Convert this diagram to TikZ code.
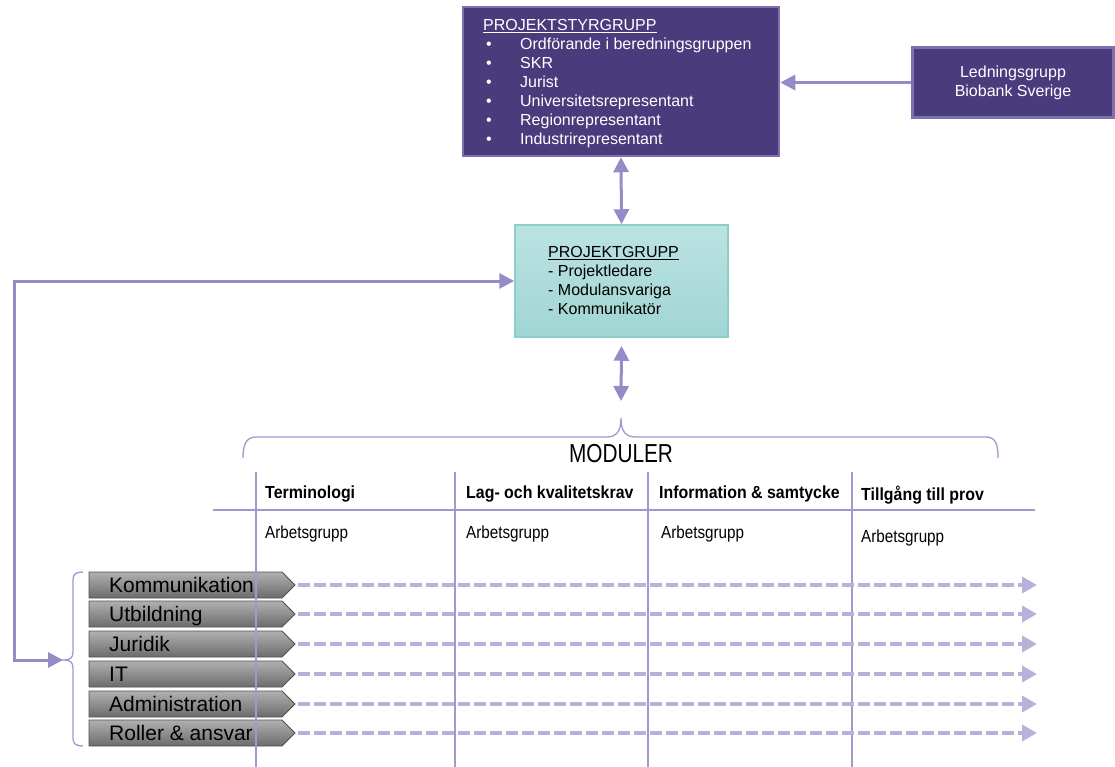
\documentclass[tikz,border=0pt]{standalone}
\usepackage{fontspec}
\setmainfont{Liberation Sans}
\usetikzlibrary{arrows.meta}
\definecolor{darkpurple}{HTML}{4A3B7C}
\definecolor{purpleedge}{HTML}{7E71AE}
\definecolor{arrowcol}{HTML}{978BC7}
\definecolor{dashcol}{HTML}{B9B1DA}
\definecolor{tablecol}{HTML}{A098CE}
\definecolor{tealtop}{HTML}{BCE3E2}
\definecolor{tealbot}{HTML}{A0D5D3}
\definecolor{tealedge}{HTML}{8ACFCC}
\definecolor{graytop}{HTML}{B0B0B0}
\definecolor{graybot}{HTML}{6C6C6C}
\definecolor{grayedge}{HTML}{505050}
\begin{document}
\begin{tikzpicture}[x=1pt,y=-1pt,
  purplebox/.style={draw=purpleedge, line width=2.5pt, fill=darkpurple, text=white, inner sep=0pt},
  tealbox/.style={draw=tealedge, line width=1.5pt, top color=tealtop, bottom color=tealbot, inner sep=0pt},
  twoway/.style={draw=arrowcol, line width=3pt, {Triangle[length=15pt,width=15pt]}-{Triangle[length=15pt,width=15pt]}},
  oneway/.style={draw=arrowcol, line width=3pt, -{Triangle[length=15pt,width=15pt]}},
  dashconn/.style={draw=dashcol, line width=4.5pt, dash pattern=on 12pt off 4pt, -{Triangle[length=15pt,width=16pt]}},
  bracestyle/.style={draw=tablecol, line width=1.3pt},
  tableline/.style={draw=tablecol, line width=1.3pt},
  graybox/.style={draw=grayedge, line width=0.8pt, top color=graytop, bottom color=graybot},
  rowtext/.style={anchor=base west, inner sep=0pt, font=\fontsize{21}{21}\selectfont},
  headtext/.style={anchor=base west, inner sep=0pt, font=\fontsize{17.5}{17.5}\selectfont\bfseries},
  worktext/.style={anchor=base west, inner sep=0pt, font=\fontsize{17.5}{17.5}\selectfont},
  boxtext/.style={anchor=base west, inner sep=0pt, font=\fontsize{16}{19}\selectfont}
]
\useasboundingbox (0,0) rectangle (1115,767);

% Top boxes
\node[purplebox, minimum width=316pt, minimum height=149pt] (styr) at (621,81.5) {};
\node[boxtext, text=white] (styrtxt) at (483,30.5) {\begin{tabular}[t]{@{}l@{}}
\underline{PROJEKTSTYRGRUPP}\\
\hspace*{3pt}\makebox[34pt][l]{•}Ordförande i beredningsgruppen\\
\hspace*{3pt}\makebox[34pt][l]{•}SKR\\
\hspace*{3pt}\makebox[34pt][l]{•}Jurist\\
\hspace*{3pt}\makebox[34pt][l]{•}Universitetsrepresentant\\
\hspace*{3pt}\makebox[34pt][l]{•}Regionrepresentant\\
\hspace*{3pt}\makebox[34pt][l]{•}Industrirepresentant
\end{tabular}};

\node[purplebox, minimum width=201pt, minimum height=70pt, align=center,
      font=\fontsize{16}{19}\selectfont] (led) at (1013,82.5) {Ledningsgrupp\\Biobank Sverige};

\node[tealbox, minimum width=213pt, minimum height=112pt] (pg) at (621.5,281) {};
\node[boxtext] (pgtxt) at (548,257.5) {\begin{tabular}[t]{@{}l@{}}
\underline{PROJEKTGRUPP}\\
- Projektledare\\
- Modulansvariga\\
- Kommunikatör
\end{tabular}};

% Connectors between top boxes
\draw[oneway] (led.west) -- (led.west -| styr.east);
\draw[twoway] (styr.south) -- (pg.north);
\coordinate (mtop) at (621,401);
\draw[twoway] ([yshift=-8pt]pg.south) -- (mtop);

% Moduler brace
\draw[bracestyle] (243,458) .. controls (243,445) and (246,437) .. (256,437) -- (606,437)
  .. controls (616,437) and (621,432) .. (621,418)
  .. controls (621,432) and (626,437) .. (636,437) -- (986,437)
  .. controls (996,437) and (998,445) .. (998,458);
\node[anchor=base, inner sep=0pt] (mod) at (621,462) {\scalebox{0.8}[1]{\fontsize{26}{26}\selectfont MODULER}};

% Left brace
\coordinate (bt) at (63,660);
\draw[bracestyle] (83,572) .. controls (76,572) and (73,574) .. (73,580) -- (73,652)
  .. controls (73,658) and (70,660) .. (64,660)
  .. controls (70,660) and (73,662) .. (73,668) -- (73,738)
  .. controls (73,744) and (76,746) .. (83,746);

% Left connector
\coordinate (lc) at (14,660);
\draw[twoway] (bt) -- (lc) |- (pg.west);

% Gray row boxes
\foreach \y/\t/\n in {585/Kommunikation/r1, 614/Utbildning/r2, 644/Juridik/r3, 674/IT/r4, 704/Administration/r5, 733/{Roller \& ansvar}/r6}{
  \path[graybox] (89,\y-13) -- (282,\y-13) -- (295,\y) -- (282,\y+13) -- (89,\y+13) -- cycle;
  \node[rowtext] (\n) at (109,\y+7.5) {\t};
  \coordinate (\n-tip) at (298,\y);
  \coordinate (\n-end) at (1037,\y);
}

% Table lines
\draw[tableline] (213,510) -- (1035,510);
\foreach \x in {256,455,648,852}{
  \draw[tableline] (\x,472) -- (\x,767);
}

% Table texts
\node[headtext] (h1) at (265,498.5) {\scalebox{0.91}[1]{Terminologi}};
\node[headtext] (h2) at (466,498.5) {\scalebox{0.91}[1]{Lag- och kvalitetskrav}};
\node[headtext] (h3) at (659,498.5) {\scalebox{0.91}[1]{Information \& samtycke}};
\node[headtext] (h4) at (861,500.5) {\scalebox{0.91}[1]{Tillgång till prov}};
\node[worktext] (w1) at (265,538.5) {\scalebox{0.87}[1]{Arbetsgrupp}};
\node[worktext] (w2) at (466,538.5) {\scalebox{0.87}[1]{Arbetsgrupp}};
\node[worktext] (w3) at (661,538.5) {\scalebox{0.87}[1]{Arbetsgrupp}};
\node[worktext] (w4) at (861,542.5) {\scalebox{0.87}[1]{Arbetsgrupp}};

% Dashed arrows
\foreach \n in {r1,r2,r3,r4,r5,r6}{
  \draw[dashconn] (\n-tip) -- (\n-end);
}
\end{tikzpicture}
\end{document}
